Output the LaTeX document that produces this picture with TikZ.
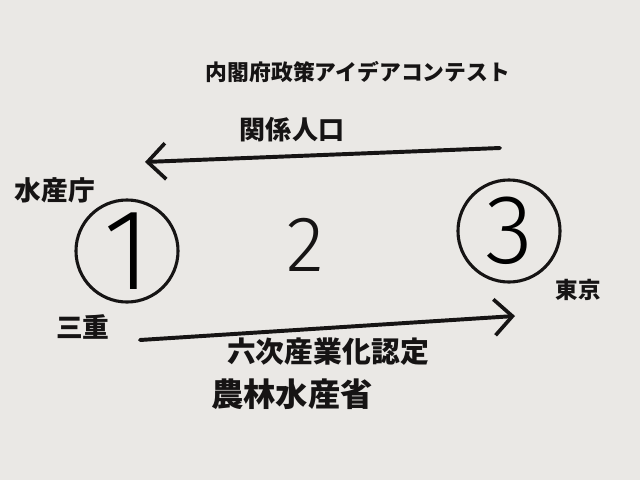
\documentclass[tikz,border=0pt]{standalone}
\usepackage{fontspec}
\setmainfont{Noto Sans CJK JP}
\newfontfamily\digitfont{Fira Sans Light}
\usepackage{tikz}
\usetikzlibrary{arrows.meta}
\definecolor{paper}{RGB}{234,232,229}
\definecolor{ink}{RGB}{22,20,20}

\begin{document}
\begin{tikzpicture}[x=0.025cm, y=-0.025cm,
    place/.style={circle, draw=ink, line width=2.2pt, minimum size=2.55cm, inner sep=0pt},
    note/.style={text=ink, inner sep=0pt},
    flow/.style={draw=ink, line width=2.8pt, line cap=round,
        -{Straight Barb[length=4.5mm, width=9mm, line width=2.6pt]}}
    ]
    % paper
    \fill[paper] (0,0) rectangle (640,480);
    \useasboundingbox (0,0) rectangle (640,480);

    % the three places
    \node[place] (one) at (127,251) {\digitfont\fontsize{82}{82}\selectfont 1};
    \node[place] (three) at (509,231) {\digitfont\fontsize{70}{70}\selectfont 3};
    \node[note] (two) at (305,245) {\digitfont\fontsize{56}{56}\selectfont 2};

    % labels of the places
    \node[note, font=\bfseries\fontsize{19}{19}\selectfont] (suisan) at (55,190) {水産庁};
    \node[note, font=\bfseries\fontsize{19}{19}\selectfont] (mie) at (83,327) {三重};
    \node[note, font=\bfseries\fontsize{16}{16}\selectfont] (tokyo) at (578,290) {東京};

    % upper arrow, Tokyo to Mie
    \coordinate (topstart) at (500,148);
    \coordinate (topend) at (145,162);
    \draw[flow] (topstart) -- (topend);
    \node[note, font=\bfseries\fontsize{15.5}{15.5}\selectfont] (idea) at (358,72) {内閣府政策アイデアコンテスト};
    \node[note, font=\bfseries\fontsize{18.5}{18.5}\selectfont] (kankei) at (292,130) {関係人口};

    % lower arrow, Mie to Tokyo
    \coordinate (lowstart) at (140,340);
    \coordinate (lowend) at (515,316);
    \draw[flow] (lowstart) -- (lowend);
    \node[note, font=\bfseries\fontsize{20.5}{20.5}\selectfont] (rokuji) at (328,352) {六次産業化認定};
    \node[note, font=\bfseries\fontsize{23}{23}\selectfont] (nourin) at (292,394) {農林水産省};
\end{tikzpicture}
\end{document}
